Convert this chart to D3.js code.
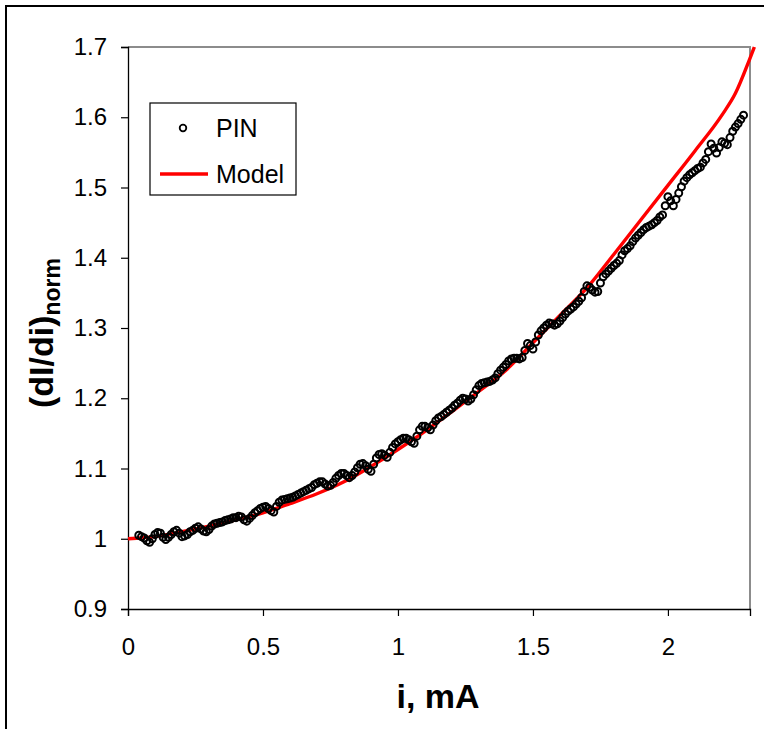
<!DOCTYPE html>
<html>
<head>
<meta charset="utf-8">
<script src="https://cdn.jsdelivr.net/npm/d3@7"></script>
<style>
  body { margin: 0; background: #fff; }
  svg { display: block; font-family: "Liberation Sans", Arial, sans-serif; }
</style>
</head>
<body>
<div id="chart"></div>
<script>
// measured PIN points (current in mA, normalised dI/di)
const pinI = [0.04, 0.05, 0.06, 0.07, 0.08, 0.09, 0.10, 0.11, 0.12, 0.13, 0.14, 0.15, 0.16, 0.17, 0.18, 0.19, 0.20, 0.21, 0.22, 0.23,
  0.24, 0.25, 0.26, 0.27, 0.28, 0.29, 0.30, 0.31, 0.32, 0.33, 0.34, 0.35, 0.36, 0.37, 0.38, 0.39, 0.40, 0.41, 0.42, 0.43,
  0.44, 0.45, 0.46, 0.47, 0.48, 0.49, 0.50, 0.51, 0.52, 0.53, 0.54, 0.55, 0.56, 0.57, 0.58, 0.59, 0.60, 0.61, 0.62, 0.63,
  0.64, 0.65, 0.66, 0.67, 0.68, 0.69, 0.70, 0.71, 0.72, 0.73, 0.74, 0.75, 0.76, 0.77, 0.78, 0.79, 0.80, 0.81, 0.82, 0.83,
  0.84, 0.85, 0.86, 0.87, 0.88, 0.89, 0.90, 0.91, 0.92, 0.93, 0.94, 0.95, 0.96, 0.97, 0.98, 0.99, 1.00, 1.01, 1.02, 1.03,
  1.04, 1.05, 1.06, 1.07, 1.08, 1.09, 1.10, 1.11, 1.12, 1.13, 1.14, 1.15, 1.16, 1.17, 1.18, 1.19, 1.20, 1.21, 1.22, 1.23,
  1.24, 1.25, 1.26, 1.27, 1.28, 1.29, 1.30, 1.31, 1.32, 1.33, 1.34, 1.35, 1.36, 1.37, 1.38, 1.39, 1.40, 1.41, 1.42, 1.43,
  1.44, 1.45, 1.46, 1.47, 1.48, 1.49, 1.50, 1.51, 1.52, 1.53, 1.54, 1.55, 1.56, 1.57, 1.58, 1.59, 1.60, 1.61, 1.62, 1.63,
  1.64, 1.65, 1.66, 1.67, 1.68, 1.69, 1.70, 1.71, 1.72, 1.73, 1.74, 1.75, 1.76, 1.77, 1.78, 1.79, 1.80, 1.81, 1.82, 1.83,
  1.84, 1.85, 1.86, 1.87, 1.88, 1.89, 1.90, 1.91, 1.92, 1.93, 1.94, 1.95, 1.96, 1.97, 1.98, 1.99, 2.00, 2.01, 2.02, 2.03,
  2.04, 2.05, 2.06, 2.07, 2.08, 2.09, 2.10, 2.11, 2.12, 2.13, 2.14, 2.15, 2.16, 2.17, 2.18, 2.19, 2.20, 2.21, 2.22, 2.23,
  2.24, 2.25, 2.26, 2.27, 2.28]
const pinR = [1.005, 1.003, 1.001, 0.997, 0.995, 1.000, 1.006, 1.009, 1.008, 1.002, 0.999, 1.002, 1.006, 1.010, 1.012, 1.008, 1.003, 1.004, 1.006, 1.010,
  1.012, 1.015, 1.017, 1.014, 1.011, 1.010, 1.013, 1.018, 1.021, 1.022, 1.023, 1.024, 1.026, 1.027, 1.028, 1.030, 1.030, 1.032, 1.031, 1.027,
  1.025, 1.029, 1.033, 1.037, 1.040, 1.043, 1.045, 1.046, 1.043, 1.040, 1.038, 1.046, 1.052, 1.055, 1.056, 1.057, 1.058, 1.059, 1.061, 1.063,
  1.065, 1.067, 1.069, 1.071, 1.073, 1.077, 1.079, 1.081, 1.081, 1.078, 1.075, 1.076, 1.080, 1.086, 1.090, 1.093, 1.093, 1.090, 1.087, 1.090,
  1.095, 1.101, 1.106, 1.107, 1.104, 1.099, 1.096, 1.106, 1.115, 1.120, 1.121, 1.119, 1.116, 1.123, 1.130, 1.135, 1.138, 1.141, 1.143, 1.143,
  1.141, 1.138, 1.136, 1.146, 1.155, 1.160, 1.160, 1.158, 1.155, 1.162, 1.168, 1.172, 1.174, 1.177, 1.180, 1.183, 1.186, 1.190, 1.193, 1.197,
  1.200, 1.199, 1.196, 1.199, 1.205, 1.212, 1.218, 1.221, 1.222, 1.223, 1.224, 1.226, 1.229, 1.235, 1.240, 1.244, 1.248, 1.253, 1.256, 1.257,
  1.257, 1.256, 1.258, 1.268, 1.278, 1.275, 1.270, 1.280, 1.290, 1.296, 1.300, 1.304, 1.307, 1.306, 1.304, 1.306, 1.310, 1.315, 1.320, 1.324,
  1.327, 1.330, 1.334, 1.338, 1.343, 1.352, 1.360, 1.358, 1.354, 1.351, 1.352, 1.364, 1.373, 1.377, 1.381, 1.385, 1.389, 1.392, 1.396, 1.404,
  1.410, 1.413, 1.417, 1.423, 1.428, 1.432, 1.436, 1.440, 1.443, 1.445, 1.447, 1.450, 1.453, 1.458, 1.461, 1.474, 1.487, 1.481, 1.474, 1.483,
  1.492, 1.501, 1.509, 1.514, 1.518, 1.521, 1.524, 1.527, 1.529, 1.535, 1.540, 1.551, 1.562, 1.556, 1.549, 1.557, 1.565, 1.563, 1.561, 1.571,
  1.580, 1.586, 1.591, 1.597, 1.603]

// model curve
const modelI = [0, 0.1, 0.2, 0.3, 0.4, 0.5, 0.6, 0.7, 0.8, 0.9, 1.0, 1.1, 1.2, 1.3, 1.4, 1.5, 1.6, 1.7, 1.8, 1.9, 2.0, 2.1, 2.2, 2.25, 2.3, 2.32]
const modelR = [1.000, 1.003, 1.010, 1.018, 1.027, 1.037, 1.050, 1.064, 1.081, 1.103, 1.127, 1.153, 1.181, 1.210, 1.240, 1.279, 1.318, 1.357, 1.405, 1.454, 1.503, 1.552, 1.603, 1.634, 1.680, 1.700]

const xTicks = [0, 0.5, 1, 1.5, 2]
const yTicks = [0.9, 1, 1.1, 1.2, 1.3, 1.4, 1.5, 1.6, 1.7]

const W = 764, H = 729
const plot = {left: 128, right: 750, top: 47, bottom: 609}

const svg = d3.select("#chart").append("svg")
  .attr("width", W).attr("height", H)

// chart area frame (only left and top visible)
svg.append("path")
  .attr("d", `M6,${H} V6 H${W}`)
  .attr("fill", "none").attr("stroke", "#000").attr("stroke-width", 2)

const x = d3.scaleLinear().domain([0, 2.304]).range([plot.left, plot.right])
const y = d3.scaleLinear().domain([0.9, 1.7]).range([plot.bottom, plot.top])

// plot frame: grey top/right
svg.append("path")
  .attr("d", `M${plot.left},${plot.top} H${plot.right} V${plot.bottom}`)
  .attr("fill", "none").attr("stroke", "#8c8c8c").attr("stroke-width", 2)

const xAxis = svg.append("g")
  .attr("transform", `translate(0,${plot.bottom})`)
  .call(d3.axisBottom(x).tickValues(xTicks).tickFormat(d3.format("")).tickSizeOuter(0).tickSize(7).tickPadding(22))
const yAxis = svg.append("g")
  .attr("transform", `translate(${plot.left},0)`)
  .call(d3.axisLeft(y).tickValues(yTicks).tickFormat(d3.format("")).tickSizeOuter(0).tickSize(7).tickPadding(14))

for (const g of [xAxis, yAxis]) {
  g.select(".domain").attr("stroke", "#000").attr("stroke-width", 1.3)
  g.selectAll(".tick line").attr("stroke", "#000").attr("stroke-width", 1.2)
  g.selectAll(".tick text").attr("fill", "#000")
    .style("font-size", "24px").style("font-family", "Liberation Sans, Arial, sans-serif")
}

// model line under the points
const line = d3.line().x(d => x(d[0])).y(d => y(d[1])).curve(d3.curveMonotoneX)
svg.append("path")
  .datum(d3.zip(modelI, modelR))
  .attr("d", line)
  .attr("fill", "none").attr("stroke", "#ff0000").attr("stroke-width", 3.4)

svg.append("g").selectAll("circle")
  .data(d3.zip(pinI, pinR))
  .join("circle")
  .attr("cx", d => x(d[0])).attr("cy", d => y(d[1]))
  .attr("r", 3.5)
  .attr("fill", "none").attr("stroke", "#000").attr("stroke-width", 2)

// legend
const lg = svg.append("g").attr("transform", "translate(150,103)")
lg.append("rect").attr("width", 146).attr("height", 92)
  .attr("fill", "#fff").attr("stroke", "#000").attr("stroke-width", 1.2)
lg.append("circle").attr("cx", 33).attr("cy", 25).attr("r", 3.3)
  .attr("fill", "none").attr("stroke", "#000").attr("stroke-width", 1.8)
lg.append("line").attr("x1", 10).attr("x2", 58).attr("y1", 71).attr("y2", 71)
  .attr("stroke", "#ff0000").attr("stroke-width", 3.4)
lg.append("text").attr("x", 66).attr("y", 34).text("PIN")
  .style("font-size", "25px")
lg.append("text").attr("x", 66).attr("y", 80).text("Model")
  .style("font-size", "25px")

// axis titles
svg.append("text")
  .attr("x", 438).attr("y", 708)
  .attr("text-anchor", "middle")
  .style("font-size", "34px").style("font-weight", "bold")
  .text("i, mA")

const yt = svg.append("text")
  .attr("transform", "translate(53,333) rotate(-90)")
  .attr("text-anchor", "middle")
  .style("font-size", "34px").style("font-weight", "bold")
yt.append("tspan").text("(dI/di)")
yt.append("tspan").attr("dy", 7).style("font-size", "23px").text("norm")
</script>
</body>
</html>
